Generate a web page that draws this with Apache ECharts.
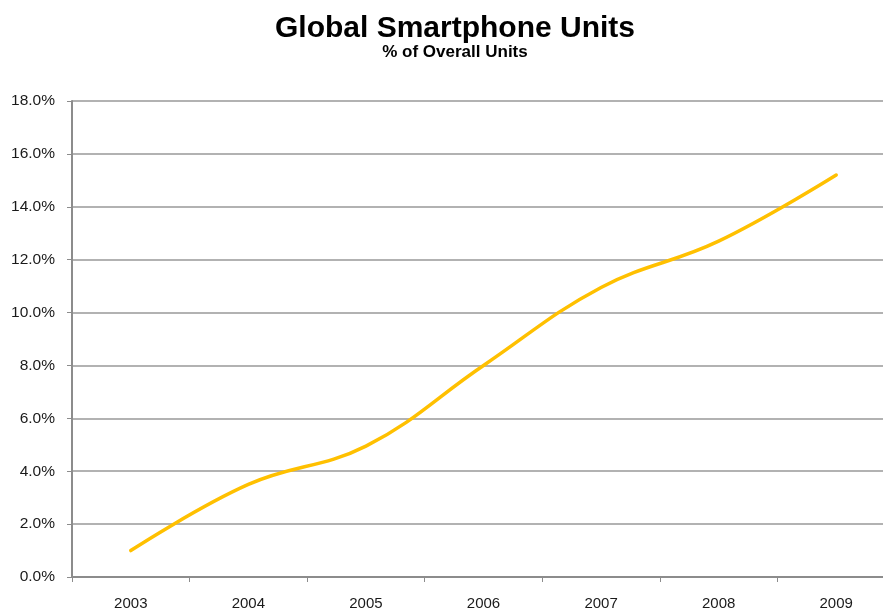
<!DOCTYPE html>
<html>
<head>
<meta charset="utf-8">
<script src="https://cdn.jsdelivr.net/npm/echarts@6/dist/echarts.min.js"></script>
<style>
  html, body { margin: 0; padding: 0; background: #fff; }
  #chart { width: 883px; height: 609px; }
</style>
</head>
<body>
<div id="chart"></div>
<script>
// Smartphone share of all handset units shipped, by year (%)
const years = ['2003', '2004', '2005', '2006', '2007', '2008', '2009'];
const smartphoneShare = [1.0, 3.5, 4.95, 8.0, 10.95, 12.7, 15.2];
const yTicks = { min: 0, max: 18, step: 2 };

const chart = echarts.init(document.getElementById('chart'));
chart.setOption({
  animation: false,
  backgroundColor: '#ffffff',
  title: {
    text: 'Global Smartphone Units',
    subtext: '% of Overall Units',
    left: 450,
    top: 9,
    textAlign: 'center',
    itemGap: 0,
    textStyle: { fontFamily: 'Liberation Sans, Arial', fontWeight: 'bold', fontSize: 30, color: '#000' },
    subtextStyle: { fontFamily: 'Liberation Sans, Arial', fontWeight: 'bold', fontSize: 17, color: '#000' }
  },
  // plot runs past the right edge of the canvas, so the last gridlines are clipped
  grid: { left: 72, top: 101, bottom: 32, width: 823, containLabel: false, outerBoundsMode: 'none' },
  xAxis: {
    type: 'category',
    data: years,
    boundaryGap: true,
    axisLine: { lineStyle: { color: '#8c8c8c', width: 2 } },
    axisTick: { show: true, length: 5, lineStyle: { color: '#8c8c8c', width: 1 } },
    axisLabel: { color: '#1a1a1a', fontFamily: 'Liberation Sans, Arial', fontSize: 15, margin: 19 },
    splitLine: { show: false }
  },
  yAxis: {
    type: 'value',
    min: yTicks.min,
    max: yTicks.max,
    interval: yTicks.step,
    axisLine: { show: true, lineStyle: { color: '#8c8c8c', width: 2 } },
    axisTick: { show: true, length: 5, lineStyle: { color: '#8c8c8c', width: 1 } },
    axisLabel: {
      color: '#1a1a1a', fontFamily: 'Liberation Sans, Arial', fontSize: 15.5, margin: 17,
      formatter: v => v.toFixed(1) + '%'
    },
    splitLine: { lineStyle: { color: '#999999', width: 1.5 } }
  },
  series: [{
    type: 'line',
    data: smartphoneShare,
    smooth: 0.4,
    symbol: 'none',
    lineStyle: { color: '#FFC000', width: 3.5, cap: 'round' }
  }]
});
</script>
</body>
</html>
